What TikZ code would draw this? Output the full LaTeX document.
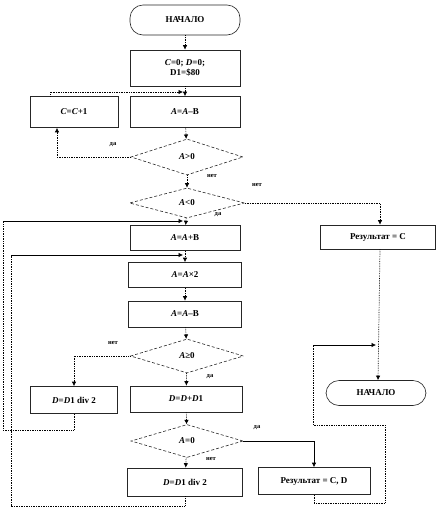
\documentclass[tikz,border=0pt]{standalone}
\usepackage{fontspec}
\setmainfont{Liberation Serif}
\usetikzlibrary{shapes.geometric,arrows.meta}

\tikzset{
	block/.style={draw=black!85, line width=0.6pt, rectangle, minimum width=110pt, minimum height=26pt, inner sep=1pt, align=center},
	term/.style={draw=black!85, line width=0.6pt, rectangle, rounded corners=13pt, minimum width=110pt, minimum height=30pt, inner sep=1pt},
	cond/.style={draw=black!85, line width=0.6pt, densely dashed, diamond, aspect=3, inner sep=0pt, minimum width=112pt, minimum height=34pt},
	flow/.style={densely dotted, line width=0.7pt, -{Latex[length=4.5pt,width=4.5pt]}},
	link/.style={densely dotted, line width=0.7pt},
	solidflow/.style={solid, line width=0.6pt, -{Latex[length=4.5pt,width=4.5pt]}},
	tag/.style={font=\bfseries\fontsize{6.5}{7.5}\selectfont, inner sep=1pt}
}

\begin{document}
\begin{tikzpicture}[x=1pt, y=-1pt, every node/.style={font=\bfseries\fontsize{9}{10.5}\selectfont}]
	\useasboundingbox (0,0) rectangle (437,512);
	% main column
	\node[term] (start) at (185,20) {НАЧАЛО};
	\node[block, minimum height=36pt] (init) at (185,68) {\textit{C}=0; \textit{D}=0;\\D1=\$80};
	\node[block, minimum width=88pt, minimum height=31pt] (cinc) at (74,112) {\textit{C}=\textit{C}+1};
	\node[block, minimum height=31pt] (sub1) at (185,112) {\textit{A}=\textit{A}–B};
	\node[cond, minimum height=36pt] (gt) at (187,157) {\textit{A}>0};
	\node[cond, minimum width=115pt, minimum height=30pt] (lt) at (187,203) {\textit{A}<0};
	\node[block, minimum height=25pt] (add) at (185,238) {\textit{A}=\textit{A}+B};
	\node[block, minimum width=113pt, minimum height=25pt] (dbl) at (185,275) {\textit{A}=\textit{A}×2};
	\node[block, minimum width=113pt] (sub2) at (185,314) {\textit{A}=\textit{A}–B};
	\node[cond, minimum width=113pt] (ge) at (187,356) {\textit{A}≥0};
	\node[block, minimum width=87pt, minimum height=27pt] (half1) at (74,400) {\textit{D}=\textit{D}1 div 2};
	\node[block, minimum width=112pt] (dinc) at (186,399) {\textit{D}=\textit{D}+\textit{D}1};
	\node[cond, minimum height=33pt] (eq) at (187,441) {\textit{A}=0};
	\node[block, minimum width=115pt, minimum height=28pt] (half2) at (185,482) {\textit{D}=\textit{D}1 div 2};
	% results
	\node[block, minimum width=115pt, minimum height=24pt] (resc) at (378,237) {Результат = C};
	\node[block, minimum width=112pt, minimum height=27pt] (rescd) at (314,481) {Результат = C, D};
	\node[term, minimum width=100pt, minimum height=25pt] (finish) at (376,393) {НАЧАЛО};
	% merge points and corners
	\coordinate (m1) at (183,92);
	\coordinate (m2) at (183,221);
	\coordinate (m3) at (183,255);
	\coordinate (m4) at (376,345);
	\coordinate (lp1) at (11,506);
	\coordinate (lp2) at (3,430);
	\coordinate (rp1) at (385,503);
	\coordinate (rp2) at (385,425);
	\coordinate (rp3) at (313,425);
	% connectors
	\draw[flow] (start) -- (init);
	\draw[flow] (init) -- (sub1);
	\draw[flow] ([xshift=-24pt]cinc.north) |- (m1);
	\draw[flow] (sub1) -- (gt);
	\draw[flow] (gt.west) -| ([xshift=-17pt]cinc.south);
	\draw[flow] (gt) -- (lt);
	\draw[flow] (lt.east) -| ([xshift=2pt]resc.north);
	\draw[flow] (lt) -- (add);
	\draw[flow] (add) -- (dbl);
	\draw[flow] (dbl) -- (sub2);
	\draw[flow] (sub2) -- (ge);
	\draw[flow] (ge.west) -| (half1.north);
	\draw[flow] (ge) -- (dinc);
	\draw[flow] (dinc) -- (eq);
	\draw[solidflow] (eq.east) -| (rescd.north);
	\draw[flow] (eq) -- (half2);
	\draw[flow] ([xshift=2pt]resc.south) -- ([xshift=2pt]finish.north);
	% loops back
	\draw[link] (half2.south) |- (lp1) -- (lp1 |- m3);
	\draw[solidflow] (lp1 |- m3) -- (m3);
	\draw[link] (half1.south) |- (lp2) -- (lp2 |- m2);
	\draw[solidflow] (lp2 |- m2) -- (m2);
	\draw[link] (rescd.south) |- (rp1) -- (rp2) -- (rp3) -- (rp3 |- m4);
	\draw[solidflow] (rp3 |- m4) -- (m4);
	% labels
	\node[tag] (t1) at (113,145) {да};
	\node[tag] (t2) at (212,176) {нет};
	\node[tag] (t3) at (257,185) {нет};
	\node[tag] (t4) at (218,215) {да};
	\node[tag] (t5) at (113,343) {нет};
	\node[tag] (t6) at (210,377) {да};
	\node[tag] (t7) at (257,428) {да};
	\node[tag] (t8) at (211,459) {нет};
\end{tikzpicture}
\end{document}
